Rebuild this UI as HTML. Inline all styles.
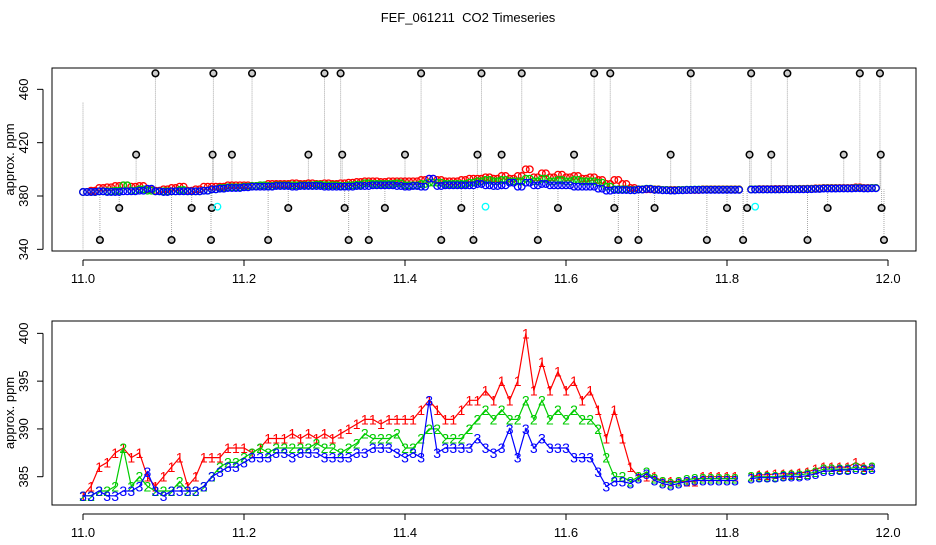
<!DOCTYPE html>
<html><head><meta charset="utf-8"><style>
body{margin:0;background:#fff;}
svg text{font-family:"Liberation Sans",sans-serif;}
</style></head><body>
<svg id="c" width="936" height="540" xmlns="http://www.w3.org/2000/svg">
<rect width="936" height="540" fill="#fff"/>
<text x="468" y="22" font-size="13" text-anchor="middle">FEF_061211&#160; CO2 Timeseries</text>
<g id="top"></g>
<g id="bot"></g>
</svg>
<script>
const xStart = 11.0, xStep = 0.01;
const series1 = [383,384,386,386.5,387.5,388,387,387.5,385,384,385,386,387,384,385,387,387,387,388,388,388,387.5,388,389,389,389,389.5,389,389.5,389,389.5,389,389.5,390,390.5,391,391,390.5,391,391,391,391,392,393,392,391,391,392,393,393,394,393,395,393,395,400,394,397,394,396,394,395,393,394,392,389,392,389,386,385,385,385,384.5,384.5,384.5,384.5,384.5,385,385,385,385,385,null,385,385.2,385.2,385.3,385.3,385.3,385.4,385.5,385.8,386,386,386,386,386.5,386,386];
const series2 = [383,383,383.5,383.5,384,388,384,385,384,383.5,383.5,383.5,384.5,383.5,383.5,384,385,386,386.5,386.5,387,387.5,388,387.5,388,388,388,388,388,388.5,388,388,387.5,388,388.5,389.5,389,389,389,389.5,388,388,389,390,390,389,389,389,390,391,392,391,392,391,391,393,391,393,391,392,391,392,391,391,390,387,385,385,384.5,385,385.5,384.8,384.5,384.3,384.5,384.7,384.8,384.8,384.8,384.8,384.8,384.8,null,385,385,385,385,385.1,385.2,385.2,385.3,385.5,385.8,385.8,385.8,385.8,386,385.8,386];
const series3 = [383,383,383.5,383,383,383.5,383.5,384,385.5,383.5,383,383.5,383.5,383.5,383.5,384,385,385.5,386,386,386.5,387,387,387,387.5,387.5,387,387.5,387.5,387.5,387,387,387,387,387.5,387.5,388,388,388,387.5,387,387.5,387,393,387.5,388,388,388,388,389,388,387.5,388,390,387,390,388,389,388,388,388,387,387,387,385.5,384,384.5,384.5,384.3,384.8,385.3,384.6,384.3,384.1,384.3,384.5,384.6,384.6,384.6,384.6,384.6,384.6,null,384.8,384.9,384.9,384.9,385,385,385,385.1,385.3,385.6,385.6,385.7,385.7,385.8,385.7,385.8];
const outlierX = [11.021,11.045,11.066,11.09,11.11,11.135,11.159,11.16,11.161,11.162,11.185,11.21,11.23,11.255,11.28,11.30,11.32,11.322,11.325,11.33,11.355,11.375,11.40,11.42,11.445,11.47,11.485,11.49,11.495,11.52,11.545,11.565,11.59,11.61,11.635,11.655,11.66,11.665,11.69,11.71,11.73,11.755,11.775,11.80,11.82,11.825,11.828,11.83,11.855,11.875,11.90,11.925,11.945,11.965,11.99,11.991,11.992,11.995];
const outlierY = [347,371,411,472,347,371,347,371,411,472,411,472,347,371,411,472,472,411,371,347,347,371,411,472,347,371,347,411,472,411,472,347,371,411,472,472,371,347,347,371,411,472,347,371,347,371,411,472,411,472,347,371,411,472,472,411,371,347];
const cyanX = [11.167,11.5,11.835];
const cyanY = [372,372,372];
const xTicks = [11.0,11.2,11.4,11.6,11.8,12.0];
const topYTicks = [340,380,420,460];
const botYTicks = [385,390,395,400];

const NS='http://www.w3.org/2000/svg';
function mk(p,tag,a){const e=document.createElementNS(NS,tag);for(const k in a)e.setAttribute(k,a[k]);p.appendChild(e);return e;}
const xs = v => 83 + (v-11.0)*805;
const ysT = v => 196 - (v-380)*1.3333;
const ysB = v => 476.7 - (v-385)*9.556;
const xAt = i => xStart + i*xStep;

function frame(g, top, bottom, ys, yt, name){
  const f=mk(g,'rect',{x:52,y:top,width:864,height:bottom-top,fill:'none',stroke:'#000','stroke-width':1});
  
  
  const ay=bottom+9;
  mk(g,'line',{x1:xs(11),x2:xs(12),y1:ay,y2:ay,stroke:'#000'});
  xTicks.forEach(t=>{
    mk(g,'line',{x1:xs(t),x2:xs(t),y1:ay,y2:ay+6,stroke:'#000'});
    const tx=mk(g,'text',{x:xs(t),y:ay+23,'font-size':13,'text-anchor':'middle'});
    tx.textContent=t.toFixed(1);
    
    
  });
  mk(g,'line',{x1:43,x2:43,y1:ys(yt[0]),y2:ys(yt[yt.length-1]),stroke:'#000'});
  yt.forEach(t=>{
    mk(g,'line',{x1:37,x2:43,y1:ys(t),y2:ys(t),stroke:'#000'});
    const tx=mk(g,'text',{x:28,y:ys(t),'font-size':13,'text-anchor':'middle',transform:`rotate(-90 28 ${ys(t)})`});
    tx.textContent=t;
    
    
  });
  const my=(top+bottom)/2;
  const yl=mk(g,'text',{x:14,y:my,'font-size':13,'text-anchor':'middle',transform:`rotate(-90 14 ${my})`});
  yl.textContent='approx. ppm';
  
  
}

// TOP PANEL
const gt=document.getElementById('top');
frame(gt,68,251,ysT,topYTicks,'top');
outlierX.forEach((x,i)=>{
  const ln=mk(gt,'line',{x1:xs(x),x2:xs(x),y1:ysT(outlierY[i]),y2:ysT(385),stroke:'#aaa','stroke-dasharray':'1,1'});
  
  
});
mk(gt,'line',{x1:xs(11.0),x2:xs(11.0),y1:ysT(450),y2:ysT(340),stroke:'#aaa','stroke-dasharray':'1,1'});
[[series1,'#f00'],[series2,'#0c0'],[series3,'#00f']].forEach(([s,c])=>{
  s.forEach((v,i)=>{
    if(v===null)return;
    for(const d of [0,0.005]){
      const cc=mk(gt,'circle',{cx:xs(xAt(i)+d),cy:ysT(v),r:3.3,fill:'none',stroke:c,'stroke-width':1.3});
      
      
    }
  });
});
outlierX.forEach((x,i)=>{
  const cc=mk(gt,'circle',{cx:xs(x),cy:ysT(outlierY[i]),r:3.3,fill:'#ccc',stroke:'#000','stroke-width':1.5});
  
  
});
cyanX.forEach((x,i)=>{
  const cc=mk(gt,'circle',{cx:xs(x),cy:ysT(cyanY[i]),r:3.3,fill:'none',stroke:'#0ff','stroke-width':1.3});
  
  
});

// BOTTOM PANEL
const gb=document.getElementById('bot');
frame(gb,321,505,ysB,botYTicks,'bottom');
[[series1,'#f00','1'],[series2,'#0c0','2'],[series3,'#00f','3']].forEach(([s,c,lab])=>{
  let d='';let pen=false;
  s.forEach((v,i)=>{ if(v===null){pen=false;return;} d+=(pen?'L':'M')+xs(xAt(i)).toFixed(1)+' '+ysB(v).toFixed(1)+' '; pen=true;});
  const p=mk(gb,'path',{d:d,fill:'none',stroke:c,'stroke-width':1.2});
  
  
  s.forEach((v,i)=>{
    if(v===null)return;
    const t=mk(gb,'text',{x:xs(xAt(i)),y:ysB(v)+5,'font-size':14,'text-anchor':'middle',fill:c});
    t.textContent=lab;
    
    
  });
});
</script>
</body></html>
